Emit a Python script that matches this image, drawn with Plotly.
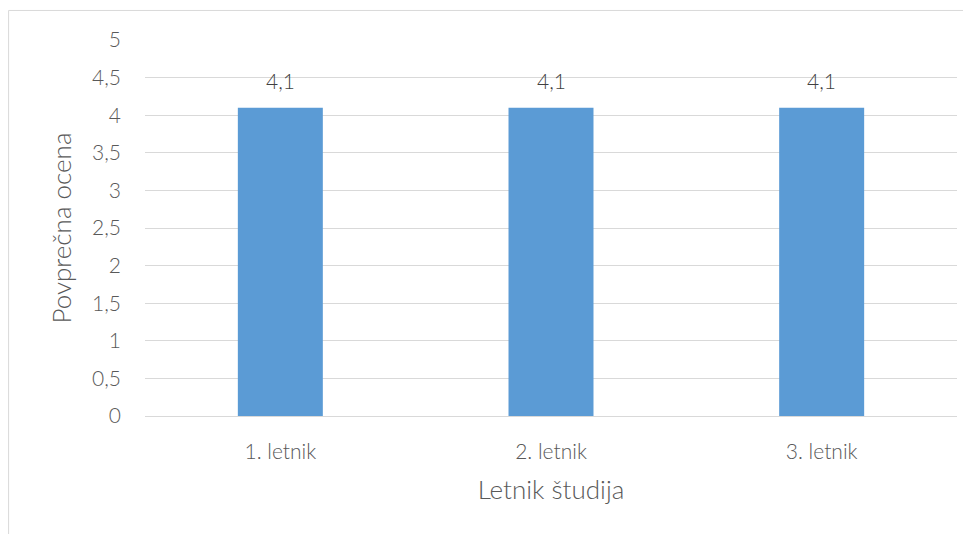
import plotly.graph_objects as go

categories = ["1. letnik", "2. letnik", "3. letnik"]
values = [4.1, 4.1, 4.1]
value_labels = ["4,1", "4,1", "4,1"]
y_tickvals = [0, 0.5, 1, 1.5, 2, 2.5, 3, 3.5, 4, 4.5, 5]
y_ticktext = ["0", "0,5", "1", "1,5", "2", "2,5", "3", "3,5", "4", "4,5", "5"]
x_title = "Letnik študija"
y_title = "Povprečna ocena"

FONT = "Lato"
TXT = "#595959"

fig = go.Figure()
fig.add_trace(go.Bar(
    x=categories, y=values,
    marker=dict(color="#5b9bd5", line=dict(width=0)),
    width=0.314,
    hoverinfo="skip",
))

for c, v, t in zip(categories, values, value_labels):
    fig.add_annotation(x=c, y=v, text=t, showarrow=False, yshift=27,
                       font=dict(family=FONT, size=21, color="#404040", weight=300))

fig.add_shape(type="rect", xref="paper", yref="paper",
              x0=-0.168, x1=1.03, y0=-0.35, y1=1.0785,
              line=dict(color="#d9d9d9", width=1), fillcolor="rgba(0,0,0,0)",
              layer="below")

fig.update_layout(
    width=971, height=534,
    margin=dict(l=137, r=22, t=32, b=126),
    paper_bgcolor="white", plot_bgcolor="white",
    showlegend=False,
    font=dict(family=FONT, size=21, color=TXT, weight=300),
    xaxis=dict(
        showgrid=False, showline=True, linecolor="#d9d9d9", linewidth=1,
        ticks="", ticklabelstandoff=17,
        tickfont=dict(family=FONT, size=21, color=TXT, weight=300),
        title=dict(text=x_title, font=dict(family=FONT, size=26, color=TXT, weight=300), standoff=18),
    ),
    yaxis=dict(
        range=[0, 5], tickvals=y_tickvals, ticktext=y_ticktext,
        showgrid=True, gridcolor="#d9d9d9", gridwidth=1,
        zeroline=True, zerolinecolor="#d9d9d9", zerolinewidth=1,
        showline=False, ticks="", ticklabelstandoff=23,
        tickfont=dict(family=FONT, size=21, color=TXT, weight=300),
        title=dict(text=y_title, font=dict(family=FONT, size=26, color=TXT, weight=300), standoff=12),
    ),
)

fig.write_html("out.html")
